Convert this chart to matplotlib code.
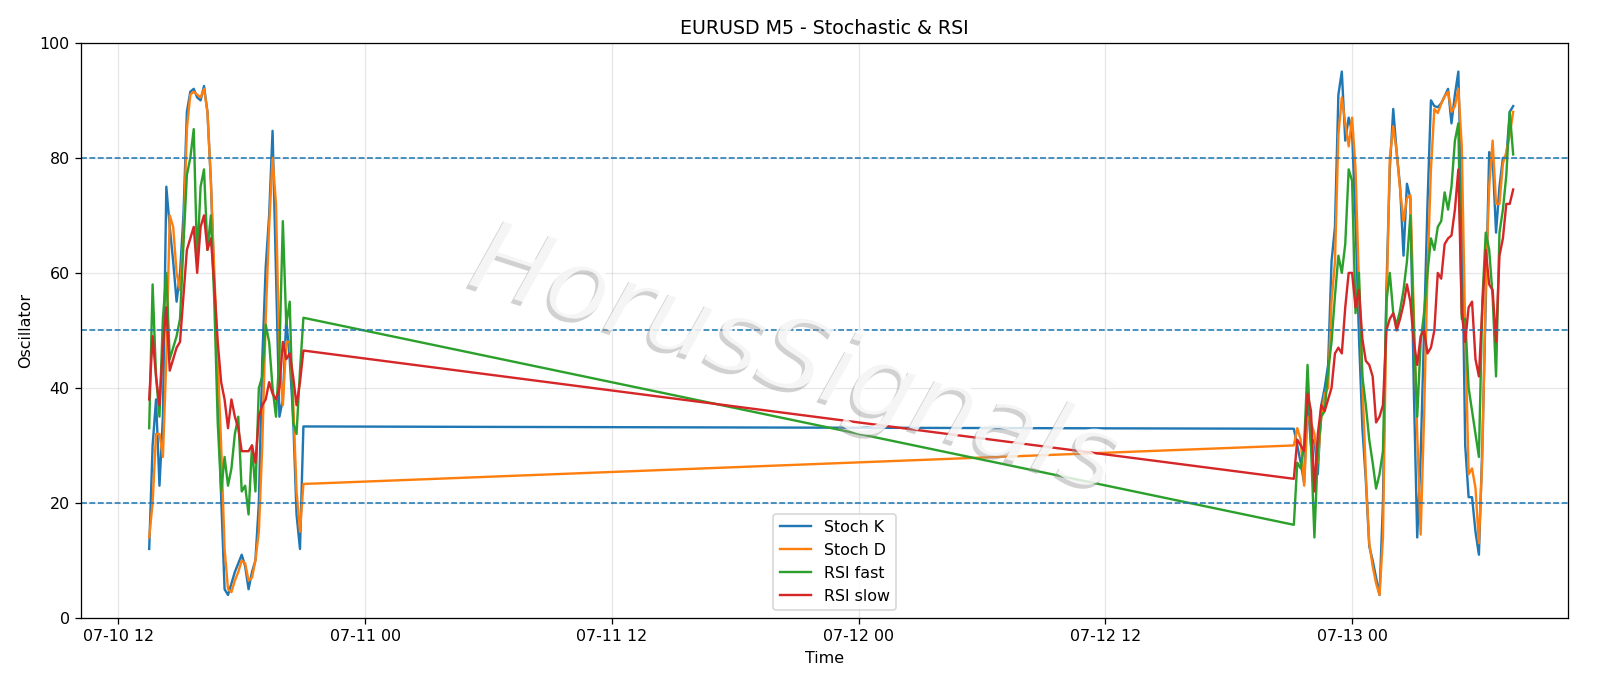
import matplotlib
matplotlib.use('Agg')
import matplotlib.pyplot as plt
import matplotlib.dates as mdates
import matplotlib.patheffects as pe
import pandas as pd

# 10 min samples, friday session then sunday open
seg1 = pd.date_range('2020-07-10 13:30', '2020-07-10 21:00', freq='10min')
seg2 = pd.date_range('2020-07-12 21:10', '2020-07-13 07:50', freq='10min')
times = seg1.append(seg2)

stoch_k = [12, 30, 38, 23, 35, 75, 68, 62, 55, 60, 70, 88, 91.5, 92, 90.5, 90, 92.5, 88, 76, 58,
           42, 21, 5, 4, 6, 8, 9.5, 11, 9, 5, 8, 10, 20, 45, 61, 70, 84.7, 60, 35, 38,
           52, 45, 35, 18, 12, 33.3,
           32.9, 30, 27, 23.5, 38, 30, 31, 25, 37, 40, 44, 62,
           68, 91, 95, 83, 87, 84.5, 69, 49, 33, 24, 12.5, 10, 7, 4,
           20, 57, 78, 88.5, 81, 75, 63, 75.5, 73, 40, 14, 28, 50,
           72, 90, 89, 88.8, 89.5, 90.7, 92, 86, 91, 95, 70, 30, 21,
           21, 15, 11, 30, 55, 81, 80, 67, 75, 80, 80, 88, 89]
stoch_d = [14, 20, 32, 32, 28, 45, 70, 68, 60, 57, 66, 85, 91, 91.5, 91, 90.5, 92, 88, 76, 60,
           45, 30, 12, 5, 4.5, 6.5, 8, 10, 9.5, 6.5, 7, 10, 15, 30, 52, 68, 80, 72, 45, 37,
           48, 48, 38, 22, 15, 23.3,
           30, 33, 31, 23, 35, 34, 32, 27, 35, 39, 40, 55,
           62, 84, 90.5, 86, 82, 87, 78, 58, 41, 25, 13, 9, 6, 4,
           14, 53, 80, 85.5, 81, 74.5, 69, 73, 73.5, 53, 32, 14.5, 35,
           60, 78, 88.5, 87.8, 89.4, 90.7, 91.5, 88, 89, 92, 82, 50, 25,
           26, 22.6, 13, 28, 58, 75, 83, 72, 72, 79, 81, 84, 88]
rsi_fast = [33, 58, 42, 35, 52, 60, 45, 47, 49, 52, 65, 77, 80, 85, 62, 75, 78, 64, 70, 55,
            34, 22, 28, 23, 26, 32, 35, 22, 23, 18, 30, 22, 40, 42, 51, 48, 40, 35, 46, 69,
            51, 55, 34, 32, 43, 52.2,
            16.2, 27, 26, 30, 44, 30, 14, 29, 35, 36, 43, 48,
            56, 63, 60, 65, 78, 76, 53, 60, 42, 37, 31, 27, 22.5, 25,
            29, 55, 60, 53, 51, 53.5, 57, 62, 70, 50, 35, 48, 53,
            60, 66, 64, 68, 69, 74, 71, 75, 83, 86, 52, 52, 40,
            36, 32, 28, 55, 67, 64, 56, 42, 67, 71, 77, 88, 80.6]
rsi_slow = [38, 49, 42, 37, 47, 54, 43, 45, 47, 48, 56, 64, 66, 68, 60, 68, 70, 64, 66, 58,
            48, 41, 38, 33, 38, 35, 33, 29, 29, 29, 30, 27, 35, 37, 38, 41, 39, 38, 40, 48,
            45, 46, 42, 37, 41, 46.5,
            24.2, 31, 30, 29, 39, 36, 22, 32, 37, 36, 38, 40,
            46, 47, 46, 54, 60, 60, 54, 57, 48.5, 44.7, 44, 42, 34, 35,
            37, 50, 52, 53, 50, 52, 54.5, 58, 55, 48, 44, 49, 50,
            46, 47, 50, 60, 59, 65, 66, 66.5, 71, 78, 53, 48, 54,
            55, 45, 42, 54, 64, 58, 57, 48, 63, 66, 72, 72, 74.5]
levels = [20, 50, 80]

fig = plt.figure(figsize=(14.0001, 6.006), dpi=1600 / 14)
ax = fig.add_subplot(111)
fig.subplots_adjust(left=0.0504, right=0.980, bottom=0.0991, top=0.937)

ax.plot(times, stoch_k, label='Stoch K', lw=1.5)
ax.plot(times, stoch_d, label='Stoch D', lw=1.5)
ax.plot(times, rsi_fast, label='RSI fast', lw=1.5)
ax.plot(times, rsi_slow, label='RSI slow', lw=1.5)
for lv in levels:
    ax.axhline(lv, color='C0', ls='--', lw=1)

ax.set_ylim(0, 100)
ax.set_xlim(pd.Timestamp('2020-07-10 10:10'), pd.Timestamp('2020-07-13 10:30'))
ax.xaxis.set_major_locator(mdates.HourLocator(byhour=[0, 12]))
ax.xaxis.set_major_formatter(mdates.DateFormatter('%m-%d %H'))
ax.grid(True, alpha=0.3)
ax.set_title('EURUSD M5 - Stochastic & RSI', fontsize=12)
ax.set_xlabel('Time')
ax.set_ylabel('Oscillator')
ax.legend(loc='lower center', bbox_to_anchor=(0.507, 0))

# watermark
fig.text(0.497, 0.475, 'HorusSignals', fontsize=65, color='white', alpha=0.8,
         style='oblique', rotation=-18, ha='center', va='center', zorder=10,
         path_effects=[pe.SimplePatchShadow(offset=(-2, -2.5), shadow_rgbFace='#999999', alpha=0.45),
                       pe.Normal()])

fig.savefig('out.png')
